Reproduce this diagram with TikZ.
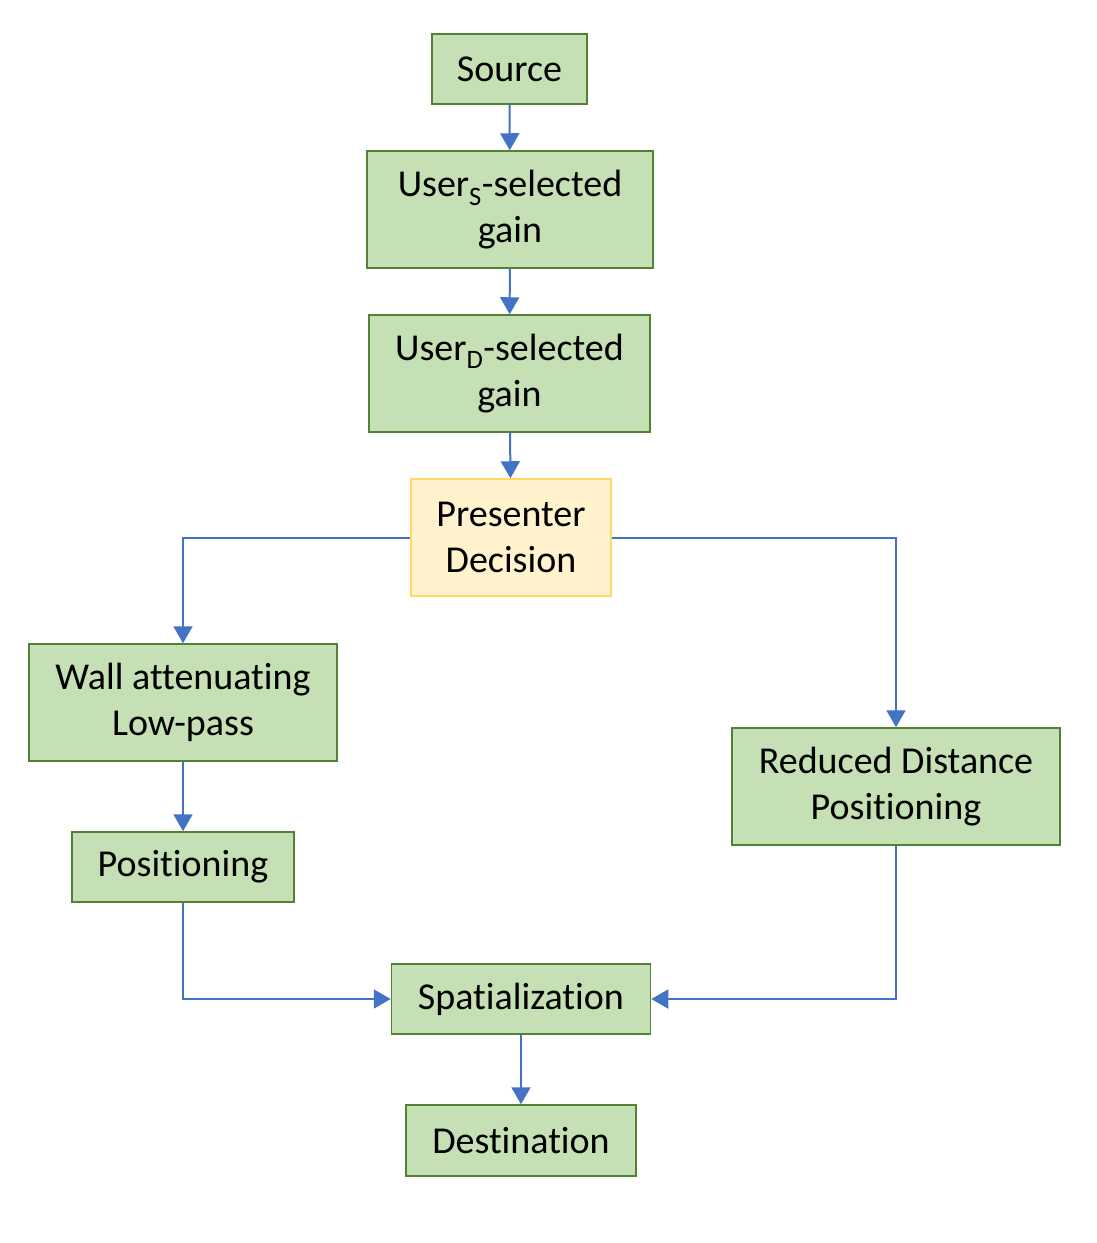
\documentclass[tikz,border=0pt]{standalone}
\usepackage{fontspec}
\setmainfont[Ligatures=NoCommon]{Carlito}
\usetikzlibrary{positioning, arrows.meta}

\definecolor{boxgreen}{HTML}{C5E0B4}
\definecolor{edgegreen}{HTML}{548235}
\definecolor{boxyellow}{HTML}{FFF2CC}
\definecolor{edgeyellow}{HTML}{FFD966}
\definecolor{flowblue}{HTML}{4472C4}

\begin{document}
\begin{tikzpicture}[x=1pt, y=-1pt,
        block/.style={rectangle, draw=edgegreen, fill=boxgreen, line width=1.5pt,
            inner sep=0pt, align=center, font=\fontsize{38}{46}\selectfont},
        decision/.style={block, draw=edgeyellow, fill=boxyellow},
        flow/.style={draw=flowblue, line width=2pt, -{Triangle[width=19pt,length=17pt]}}]
        \useasboundingbox (0,0) rectangle (1097,1243);

        \node[block, minimum width=155pt, minimum height=70pt] (source) at (509.5,69) {Source};
        \node[block, minimum width=286pt, minimum height=117pt] (users) at (510,209.5) {User\textsubscript{S}-selected\\gain};
        \node[block, minimum width=281pt, minimum height=117pt] (userd) at (509.5,373.5) {User\textsubscript{D}-selected\\gain};
        \node[decision, minimum width=200pt, minimum height=117pt] (presenter) at (511,537.5) {Presenter\\Decision};
        \node[block, minimum width=308pt, minimum height=117pt] (wall) at (183,702.5) {Wall attenuating\\Low-pass};
        \node[block, minimum width=222pt, minimum height=70pt] (pos) at (183,867) {Positioning};
        \node[block, minimum width=328pt, minimum height=117pt] (reduced) at (896,786.5) {Reduced Distance\\Positioning};
        \node[block, minimum width=259pt, minimum height=70pt] (spat) at (521,999) {Spatialization};
        \node[block, minimum width=230pt, minimum height=71pt] (dest) at (521,1140.5) {Destination};

        \path[flow] (source) -- (users);
        \path[flow] (users) -- (userd);
        \path[flow] (userd) -- (presenter);
        \path[flow] (presenter.west) -| (wall.north);
        \path[flow] (presenter.east) -| (reduced.north);
        \path[flow] (wall) -- (pos);
        \path[flow] (pos.south) |- (spat.west);
        \path[flow] (reduced.south) |- (spat.east);
        \path[flow] (spat) -- (dest);
\end{tikzpicture}
\end{document}
